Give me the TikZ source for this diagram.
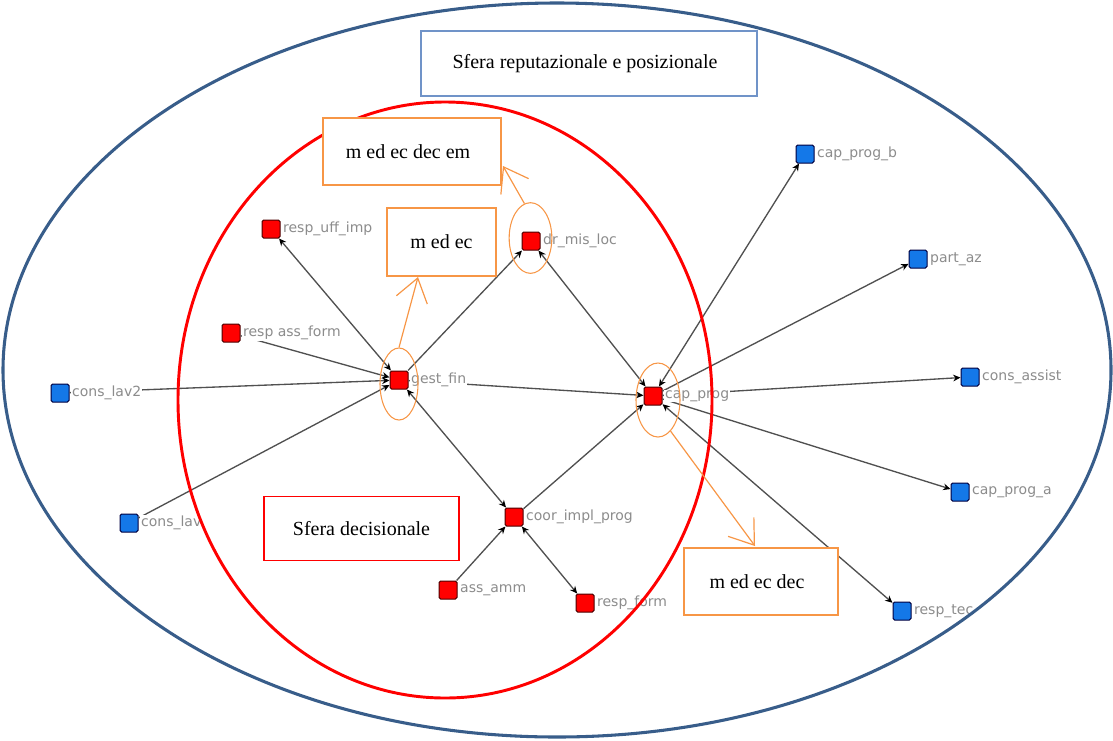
\documentclass[tikz,border=0pt]{standalone}
\usepackage{fontspec}
\setmainfont{Liberation Serif}
\newfontfamily\lblfont{DejaVu Sans}
\usetikzlibrary{arrows.meta,shapes.geometric}
\definecolor{sphereblue}{HTML}{385D8A}
\definecolor{titleblue}{HTML}{7093C8}
\definecolor{hlorange}{HTML}{F79646}
\definecolor{actorred}{HTML}{FF0000}
\definecolor{actorblue}{HTML}{1478E8}
\definecolor{edgegray}{HTML}{505050}
\definecolor{lblgray}{HTML}{8C8C8C}
\begin{document}
\begin{tikzpicture}[x=0.75pt,y=-0.75pt,
  inner/.style={rectangle, rounded corners=1.2pt, draw=black!70!red, fill=actorred,
    line width=0.75pt, minimum size=13.5pt, inner sep=0pt},
  outer/.style={rectangle, rounded corners=1.2pt, draw=black!75!blue, fill=actorblue,
    line width=0.75pt, minimum size=13.5pt, inner sep=0pt},
  lbl/.style={font=\lblfont\fontsize{10.5}{12}\selectfont, text=lblgray, fill=white,
    inner sep=0.6pt, anchor=west, xshift=1.2pt},
  tie/.style={draw=edgegray, line width=1pt},
  >={Stealth[length=5.5pt,width=5pt,color=black]},
  boxtext/.style={font=\fontsize{15}{17}\selectfont},
  note/.style={rectangle, draw=hlorange, fill=white, line width=0.8pt,
    boxtext, inner sep=0pt},
  ring/.style={ellipse, draw=hlorange, line width=0.8pt, inner sep=0pt},
  pointer/.style={draw=hlorange, line width=0.9pt,
    -{Straight Barb[length=17pt,width=24pt,line width=0.9pt]}}
]
\useasboundingbox (0,0) rectangle (1113,740);

% actors
\node[inner] (respuff)  at (271,229) {};
\node[inner] (respass)  at (231,333) {};
\node[outer] (conslav2) at (60,393) {};
\node[outer] (conslav)  at (129,523) {};
\node[inner] (gestfin)  at (399,380) {};
\node[inner] (drmis)    at (531,241) {};
\node[inner] (capprog)  at (653,396) {};
\node[inner] (coor)     at (514,517) {};
\node[inner] (assamm)   at (448,590) {};
\node[inner] (respform) at (585,603) {};
\node[outer] (capb)     at (805,154) {};
\node[outer] (partaz)   at (918,259) {};
\node[outer] (consass)  at (970,377) {};
\node[outer] (capa)     at (960,492) {};
\node[outer] (resptec)  at (902,611) {};

% ties
\draw[tie,<->] (gestfin) -- (respuff);
\draw[tie,->] (respass) -- (gestfin);
\draw[tie,->] (conslav2) -- (gestfin);
\draw[tie,->] (conslav) -- (gestfin);
\draw[tie,->] (gestfin) -- (drmis);
\draw[tie,<->] (capprog) -- (drmis);
\draw[tie,->] (gestfin) -- (capprog);
\draw[tie,<->] (coor) -- (gestfin);
\draw[tie,->] (coor) -- (capprog);
\draw[tie,->] (assamm) -- (coor);
\draw[tie,<->] (respform) -- (coor);
\draw[tie,<->] (capprog) -- (capb);
\draw[tie,->] (capprog) -- (partaz);
\draw[tie,->] (capprog) -- (consass);
\draw[tie,->] (capprog) -- (capa);
\draw[tie,<->] (capprog) -- (resptec);

% actor labels
\node[lbl] at (respuff.east)  {resp\_uff\_imp};
\node[lbl] at (respass.east)  {resp ass\_form};
\node[lbl] at (conslav2.east) {cons\_lav2};
\node[lbl] at (conslav.east)  {cons\_lav};
\node[lbl] at (gestfin.east)  {gest\_fin};
\node[lbl] at (drmis.east)    {dr\_mis\_loc};
\node[lbl] at (capprog.east)  {cap\_prog};
\node[lbl] at (coor.east)     {coor\_impl\_prog};
\node[lbl] at (assamm.east)   {ass\_amm};
\node[lbl] at (respform.east) {resp\_form};
\node[lbl] at (capb.east)     {cap\_prog\_b};
\node[lbl] at (partaz.east)   {part\_az};
\node[lbl] at (consass.east)  {cons\_assist};
\node[lbl] at (capa.east)     {cap\_prog\_a};
\node[lbl] at (resptec.east)  {resp\_tec};

% spheres
\draw[sphereblue, line width=2.3pt] (557,370) ellipse [x radius=554, y radius=367];
\draw[actorred, line width=2.2pt] (445,400) ellipse [x radius=267, y radius=298];

% boxes
\node[rectangle, draw=titleblue, fill=white, line width=0.8pt, inner sep=0pt,
  minimum width=252pt, minimum height=48.75pt, boxtext]
  (reput) at (589,63.5) {\hspace*{-6pt}Sfera reputazionale e posizionale};
\node[rectangle, draw=actorred, fill=white, line width=0.8pt, inner sep=0pt,
  minimum width=146.25pt, minimum height=48pt, boxtext]
  (decis) at (361.5,528.5) {Sfera decisionale};
\node[note, minimum width=133.5pt, minimum height=50.25pt] (mdde) at (412,151.5) {\hspace*{-6pt}m ed ec dec em};
\node[note, minimum width=81.75pt, minimum height=51pt] (mdone) at (441.5,242) {m ed ec};
\node[note, minimum width=115.5pt, minimum height=50.25pt] (mdd) at (761,581.5) {\hspace*{-6pt}m ed ec dec};

% highlighted actors
\node[ring, minimum width=28.5pt, minimum height=54pt] (ogf) at (399,384) {};
\node[ring, minimum width=32pt, minimum height=53pt] (odr) at (530.5,238) {};
\node[ring, minimum width=33pt, minimum height=55.5pt] (ocp) at (658,400) {};
\coordinate (tipone) at (418,277);
\coordinate (tipdde) at (503,166);
\coordinate (tipdd) at (755,546);
\draw[pointer] (ogf.north) -- (tipone);
\draw[pointer] (odr.100) -- (tipdde);
\draw[pointer] (ocp.-68) -- (tipdd);
\end{tikzpicture}
\end{document}
